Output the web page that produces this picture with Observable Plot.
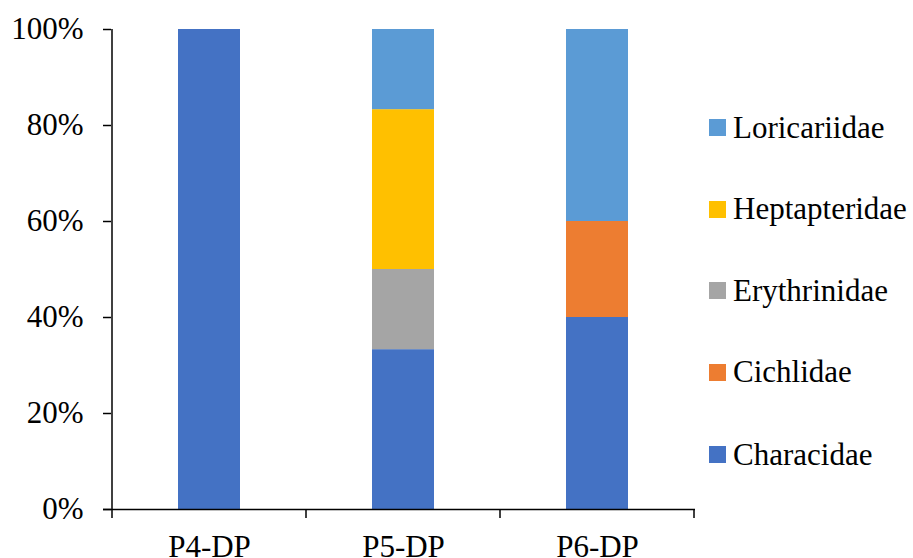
<!DOCTYPE html>
<html>
<head>
<meta charset="utf-8">
<script src="https://cdn.jsdelivr.net/npm/d3@7"></script>
<script src="https://cdn.jsdelivr.net/npm/@observablehq/plot@0.6"></script>
<style>
  html, body { margin: 0; padding: 0; background: #fff; }
  #wrap { position: relative; width: 913px; height: 558px; overflow: hidden; font-family: "Liberation Serif", "Times New Roman", serif; }
  #legend { position: absolute; left: 709px; top: 0; }
  .item { position: absolute; left: 0; display: flex; align-items: center; white-space: nowrap; font-size: 31px; color: #000; }
  .sw { width: 17px; height: 17px; margin-right: 7px; flex: none; }
</style>
</head>
<body>
<div id="wrap"><div id="legend"></div></div>
<script>
const categories = ["P4-DP", "P5-DP", "P6-DP"];
const families = ["Characidae", "Cichlidae", "Erythrinidae", "Heptapteridae", "Loricariidae"];
const colors = ["#4472C4", "#ED7D31", "#A5A5A5", "#FFC000", "#5B9BD5"];
const characidae    = [100, 33.3, 40];
const cichlidae     = [0, 0, 20];
const erythrinidae  = [0, 16.7, 0];
const heptapteridae = [0, 33.3, 0];
const loricariidae  = [0, 16.7, 40];
const yTicks = [0, 20, 40, 60, 80, 100];

const series = [characidae, cichlidae, erythrinidae, heptapteridae, loricariidae];
const data = [];
families.forEach((f, i) => categories.forEach((c, j) => data.push({site: c, family: f, value: series[i][j]})));

const W = 913, H = 558;
const plot = Plot.plot({
  width: W, height: H,
  marginLeft: 111, marginRight: 218, marginTop: 29, marginBottom: 49,
  style: {fontFamily: '"Liberation Serif", "Times New Roman", serif', fontSize: "31px", color: "#000", background: "transparent", overflow: "visible"},
  x: {domain: categories, paddingInner: 0.68, paddingOuter: 0.34, label: null},
  y: {domain: [0, 100], label: null},
  color: {domain: families, range: colors},
  marks: [
    Plot.barY(data, {x: "site", y: "value", fill: "family", order: families}),
    Plot.axisY({ticks: yTicks, tickFormat: d => d + "%", tickSize: 8, tickPadding: 20, fontSize: 31, label: null}),
    Plot.axisX({tickSize: 0, tickPadding: 25, fontSize: 31, label: null}),
    Plot.ruleY([0], {stroke: "#000", strokeWidth: 1.5, insetLeft: -8})
  ]
});

// Axis line and category boundary ticks from the scales
const xs = plot.scale("x"), ys = plot.scale("y");
const svg = d3.select(plot);
const step = xs.step;
const bounds = categories.map(c => xs.apply(c) + xs.bandwidth / 2 - step / 2);
bounds.push(bounds[bounds.length - 1] + step);
const y0 = ys.apply(0), y1 = ys.apply(100);
svg.append("line").attr("x1", bounds[0]).attr("x2", bounds[0]).attr("y1", y1).attr("y2", y0 + 9).attr("stroke", "#000").attr("stroke-width", 1.5);
bounds.slice(1).forEach(b => svg.append("line").attr("x1", b).attr("x2", b).attr("y1", y0).attr("y2", y0 + 9).attr("stroke", "#000").attr("stroke-width", 1.5));
svg.selectAll("[aria-label='y-axis tick']").attr("stroke-width", 1.5);

document.getElementById("wrap").prepend(plot);

// Legend (reverse order, top = Loricariidae)
const legend = document.getElementById("legend");
const rowY = [127.5, 209, 290.5, 372, 454.5];
families.slice().reverse().forEach((f, i) => {
  const item = document.createElement("div");
  item.className = "item";
  item.style.top = (rowY[i] - 20) + "px";
  item.style.height = "40px";
  const sw = document.createElement("span");
  sw.className = "sw";
  sw.style.background = colors[families.indexOf(f)];
  const t = document.createElement("span");
  t.textContent = f;
  item.append(sw, t);
  legend.append(item);
});
</script>
</body>
</html>
